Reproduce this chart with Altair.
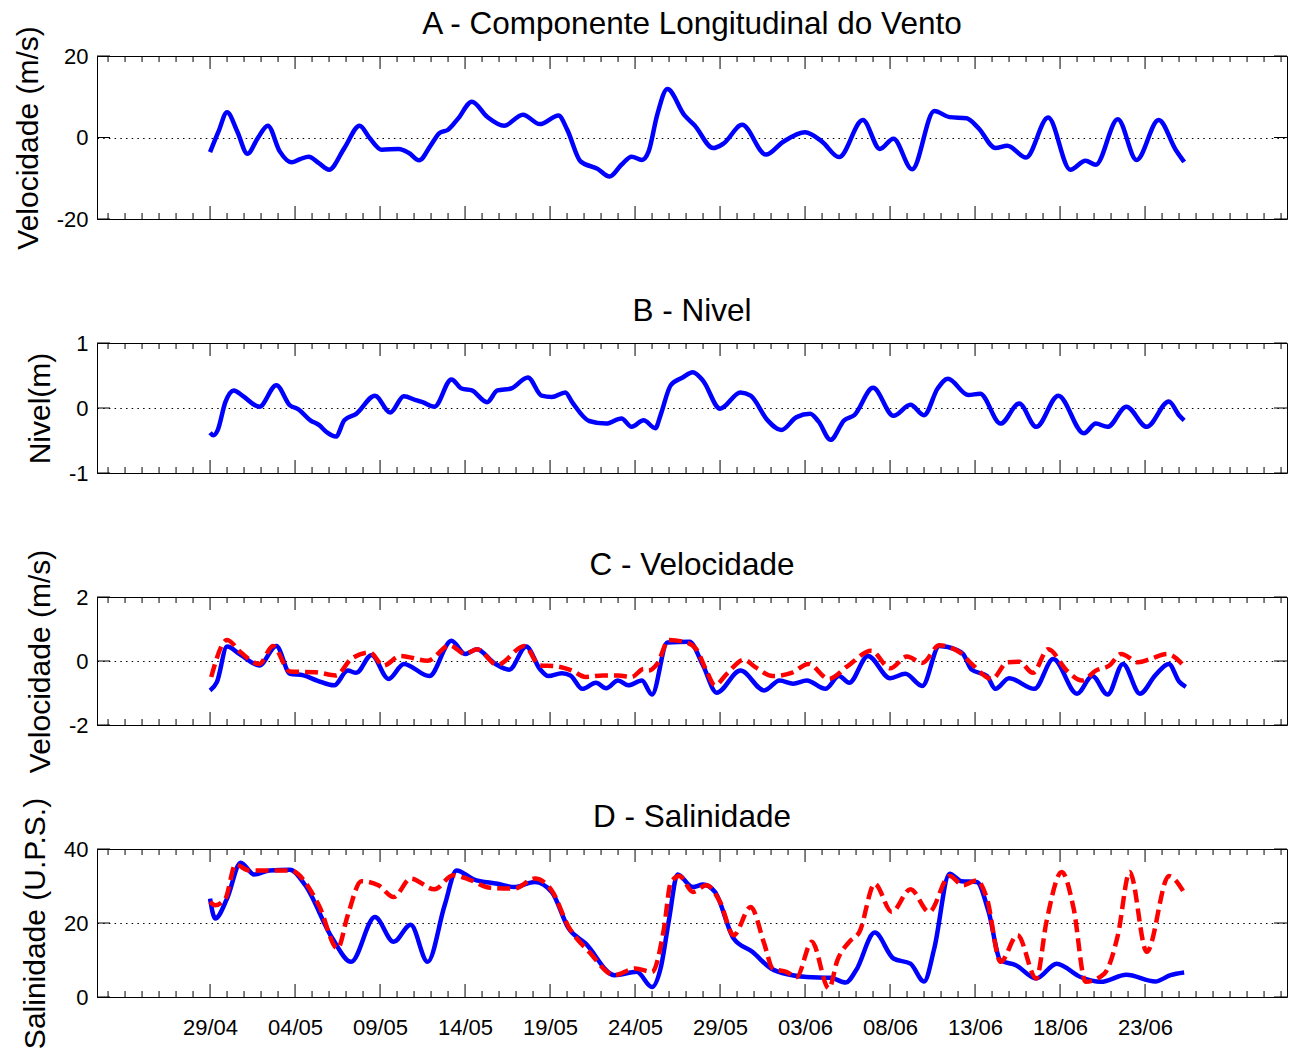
import altair as alt
import pandas as pd

FONT = "Liberation Sans"
W = 1190
X_DOMAIN = [-6.65, 63.35]   # days relative to 29/04

# date labels, one every 5 days starting 29/04
tick_days = [0, 5, 10, 15, 20, 25, 30, 35, 40, 45, 50, 55]
tick_labels = ["29/04", "04/05", "09/05", "14/05", "19/05", "24/05",
               "29/05", "03/06", "08/06", "13/06", "18/06", "23/06"]
minor_days = [d for d in range(-6, 64) if d not in tick_days]

# A - alongshore wind component (m/s)
wind_day = [0.0, 0.5, 1.0, 1.6, 2.2, 2.8, 3.4, 4.1, 4.8, 5.3, 5.8, 6.4, 7.0, 7.9, 8.8,
            9.4, 10.1, 11.1, 11.7, 12.3, 13.0, 13.5, 14.0, 14.6, 15.4, 16.3, 17.3, 18.4,
            19.4, 20.5, 21.0, 21.8, 22.8, 23.5, 24.2, 24.8, 25.4, 25.8, 26.3, 26.9, 27.9,
            28.5, 29.6, 30.2, 31.3, 32.7, 33.7, 35.0, 36.0, 37.0, 38.4, 39.4, 40.2, 41.3,
            42.6, 43.5, 44.5, 45.2, 46.2, 46.9, 48.0, 49.3, 50.6, 51.5, 52.1, 53.4, 54.5,
            55.8, 56.8, 57.3]
wind_val = [-3.6, 1.5, 6.2, 1.5, -4.0, -0.2, 2.9, -3.4, -6.1, -5.3, -4.7, -6.3, -7.9, -2.6, 2.9,
            -0.2, -3.0, -2.8, -3.8, -5.6, -1.8, 1.1, 1.9, 4.7, 8.8, 5.1, 2.9, 5.6,
            3.3, 5.4, 2.0, -5.9, -7.7, -9.6, -6.7, -4.7, -5.5, -3.4, 5.5, 11.9, 5.5,
            3.0, -2.6, -1.5, 3.1, -4.2, -1.1, 1.3, -1.0, -4.8, 4.3, -2.8, -0.3, -7.8,
            6.5, 5.0, 4.7, 2.3, -2.6, -2.0, -4.9, 4.9, -7.9, -5.7, -6.7, 4.5, -5.5,
            4.3, -3.0, -6.0]

# B - water level (m)
level_day = [0.0, 0.2, 0.45, 0.9, 1.4, 1.9, 2.9, 3.9, 4.7, 5.2, 5.9, 6.4, 6.9, 7.4, 7.9,
             8.6, 9.7, 10.6, 11.4, 12.1, 12.5, 13.2, 14.2, 14.8, 15.4, 16.3, 16.9, 17.7,
             18.7, 19.5, 20.1, 20.9, 21.3, 22.3, 23.3, 24.2, 24.8, 25.5, 26.2, 26.5, 27.1,
             27.8, 28.4, 29.0, 30.0, 31.2, 31.8, 32.8, 33.6, 34.5, 35.3, 35.8, 36.5, 37.3,
             37.9, 39.0, 40.2, 41.2, 42.0, 42.8, 43.4, 44.6, 45.3, 46.5, 47.6, 48.6, 49.9,
             51.4, 52.1, 52.8, 53.9, 55.1, 56.4, 57.0, 57.3]
level_val = [-0.38, -0.42, -0.34, 0.09, 0.27, 0.19, 0.02, 0.35, 0.04, -0.02, -0.19, -0.26, -0.38, -0.44, -0.19,
             -0.09, 0.19, -0.07, 0.18, 0.12, 0.09, 0.02, 0.44, 0.30, 0.27, 0.09, 0.27, 0.30,
             0.47, 0.19, 0.17, 0.24, 0.09, -0.20, -0.24, -0.16, -0.29, -0.19, -0.31, -0.11, 0.35,
             0.47, 0.55, 0.42, -0.01, 0.24, 0.19, -0.19, -0.34, -0.14, -0.09, -0.21, -0.49, -0.19,
             -0.11, 0.31, -0.12, 0.05, -0.11, 0.30, 0.45, 0.20, 0.22, -0.24, 0.07, -0.29, 0.19,
             -0.39, -0.24, -0.29, 0.02, -0.29, 0.10, -0.11, -0.19]

# C - current velocity (m/s): solid and dashed series
vel1_day = [0.0, 0.4, 1.0, 1.8, 2.9, 3.9, 4.7, 5.5, 6.3, 7.3, 8.1, 8.6, 9.5, 10.5, 11.4,
            12.9, 14.2, 15.0, 15.7, 16.7, 17.6, 18.6, 19.4, 19.9, 20.7, 21.2, 21.9, 22.7,
            23.3, 24.0, 24.6, 25.4, 26.0, 26.9, 28.2, 29.0, 29.8, 31.2, 32.6, 33.5, 34.3,
            35.1, 36.2, 37.0, 37.6, 38.7, 40.0, 40.9, 41.9, 42.9, 43.9, 44.3, 44.8, 45.7,
            46.2, 47.0, 48.5, 49.6, 51.0, 51.9, 52.8, 53.7, 54.7, 55.6, 56.4, 57.0, 57.4]
vel1_val = [-0.92, -0.66, 0.45, 0.19, -0.14, 0.47, -0.40, -0.45, -0.61, -0.76, -0.30, -0.37, 0.19, -0.56, -0.09,
            -0.47, 0.63, 0.22, 0.37, -0.06, -0.27, 0.45, -0.25, -0.47, -0.38, -0.45, -0.87, -0.68,
            -0.85, -0.61, -0.76, -0.61, -1.05, 0.58, 0.60, -0.14, -0.99, -0.30, -0.92, -0.61, -0.71,
            -0.61, -0.87, -0.47, -0.68, 0.16, -0.54, -0.40, -0.78, 0.47, 0.35, 0.22, -0.27, -0.47,
            -0.87, -0.54, -0.87, 0.06, -1.02, -0.47, -1.05, -0.09, -1.02, -0.45, -0.09, -0.64, -0.81]
vel2_day = [0.07, 1.0, 1.8, 2.9, 3.7, 4.7, 6.2, 7.4, 8.3, 9.4, 10.2, 11.2, 12.8, 14.1, 15.0,
            15.7, 16.9, 18.5, 19.4, 20.3, 21.3, 22.1, 23.1, 24.0, 24.8, 25.5, 25.8, 26.3,
            27.0, 28.0, 28.6, 29.2, 29.7, 30.4, 31.4, 32.1, 33.1, 34.2, 35.2, 36.4, 37.5,
            38.9, 40.0, 41.0, 41.9, 42.9, 44.1, 44.8, 46.0, 46.9, 47.6, 48.4, 49.3, 50.4,
            51.3, 52.1, 52.9, 53.6, 54.6, 55.3, 56.3, 57.3]
vel2_val = [-0.50, 0.66, 0.27, -0.09, 0.47, -0.33, -0.35, -0.45, 0.06, 0.27, -0.14, 0.16, 0.01, 0.49, 0.22,
            0.37, -0.12, 0.47, -0.14, -0.16, -0.30, -0.50, -0.45, -0.45, -0.50, -0.25, -0.30, -0.09,
            0.66, 0.58, 0.37, -0.30, -0.76, -0.40, 0.04, -0.20, -0.47, -0.37, -0.09, -0.56, -0.16,
            0.32, -0.23, 0.14, -0.06, 0.49, 0.27, -0.09, -0.56, -0.04, -0.02, -0.37, 0.37, -0.30,
            -0.61, -0.30, -0.14, 0.22, -0.04, 0.06, 0.22, -0.16]

# D - salinity (U.P.S.): solid and dashed series
sal1_day = [0.0, 0.3, 1.0, 1.8, 2.6, 3.5, 4.7, 5.6, 7.2, 8.3, 9.7, 10.8, 11.8, 12.8, 13.8,
            14.5, 15.5, 16.9, 17.9, 19.1, 20.1, 21.1, 22.1, 23.8, 25.1, 26.0, 26.5, 27.0,
            27.5, 28.4, 29.0, 29.7, 30.8, 31.9, 33.0, 34.1, 35.1, 36.5, 37.4, 38.0, 39.1,
            40.2, 41.2, 42.0, 42.6, 43.5, 44.2, 45.1, 45.8, 46.5, 47.4, 48.6, 49.8, 51.2,
            52.4, 53.9, 55.6, 56.5, 57.3]
sal1_val = [26.6, 21.2, 26.6, 36.3, 33.1, 34.2, 34.4, 30.2, 15.8, 9.5, 21.6, 14.9, 19.5, 9.5, 24.8,
            34.2, 31.8, 30.6, 29.7, 31.1, 28.4, 18.5, 14.4, 5.9, 6.8, 2.7, 7.7, 21.0,
            33.1, 29.7, 30.4, 28.4, 15.8, 12.2, 7.7, 6.0, 5.4, 5.2, 3.9, 7.2, 17.4,
            10.4, 9.0, 4.2, 13.1, 33.3, 31.3, 31.1, 23.0, 9.9, 8.6, 5.0, 9.0, 5.4,
            4.1, 6.0, 4.2, 5.9, 6.6]
sal2_day = [0.0, 0.3, 0.9, 1.5, 2.3, 3.5, 4.7, 6.4, 7.5, 8.1, 8.9, 9.9, 10.8, 11.8, 13.2,
            14.3, 15.2, 16.5, 17.9, 19.1, 20.1, 21.1, 22.3, 23.8, 25.0, 26.0, 26.7, 27.1,
            27.6, 28.4, 29.2, 30.0, 30.8, 31.8, 32.6, 33.1, 33.9, 34.5, 35.4, 36.4, 36.9,
            37.6, 38.2, 39.1, 40.1, 41.2, 42.3, 43.5, 44.3, 45.1, 45.7, 46.5, 47.5, 48.6,
            49.2, 50.1, 50.8, 51.5, 52.6, 53.4, 54.1, 55.1, 56.4, 57.3]
sal2_val = [25.7, 24.8, 26.6, 35.8, 34.2, 34.2, 34.2, 24.8, 13.1, 22.1, 31.3, 30.2, 27.0, 32.0, 29.1,
            32.9, 31.8, 29.5, 29.3, 32.0, 28.8, 18.9, 12.2, 5.9, 7.7, 6.8, 18.5, 30.9,
            32.7, 28.4, 30.2, 25.7, 16.7, 24.3, 14.4, 7.7, 6.8, 5.4, 14.9, 2.3, 9.9,
            14.9, 17.6, 30.6, 23.0, 29.1, 23.0, 32.7, 30.2, 31.5, 26.6, 9.5, 16.7, 5.0,
            20.3, 33.8, 23.9, 4.1, 6.3, 16.7, 33.8, 12.2, 32.7, 28.2]

BLUE = "#0000ff"
RED = "#ff0000"
MAJOR_LEN = 13
MINOR_LEN = 6
LINE_W = 4.5

label_expr = "[" + ",".join("'%s'" % t for t in tick_labels) + "][round(datum.value / 5)]"
xscale = alt.Scale(domain=X_DOMAIN, nice=False, zero=False)


def panel(title, ytitle, ydomain, yticks, height, series, show_dates):
    yscale = alt.Scale(domain=ydomain, nice=False, zero=False)
    if show_dates:
        xaxis = alt.Axis(values=tick_days, labelExpr=label_expr, ticks=False, tickSize=0,
                         domain=False, grid=False, title=None, labelFontSize=22,
                         labelPadding=20, labelFlush=False, labelOverlap=False)
    else:
        xaxis = None
    yaxis = alt.Axis(values=yticks, labelExpr="toString(datum.value)", ticks=False, tickSize=0,
                     domain=False, grid=True, gridDash=[1.5, 4.2], gridColor="black",
                     gridWidth=1, gridOpacity=1, labelFontSize=22, labelPadding=9,
                     labelFlush=False, labelOverlap=False, title=ytitle, titleFontSize=30,
                     titleFontWeight="normal", titlePadding=13)

    def X():
        return alt.X("day:Q", scale=xscale, axis=xaxis)

    def Y():
        return alt.Y("value:Q", scale=yscale, axis=yaxis)

    layers = []
    for days, vals, color, dashed in series:
        df = pd.DataFrame({"day": days, "value": vals})
        if dashed:
            mark = alt.Chart(df).mark_line(color=color, strokeWidth=LINE_W, interpolate="monotone",
                                           strokeDash=[13, 6])
        else:
            mark = alt.Chart(df).mark_line(color=color, strokeWidth=LINE_W, interpolate="monotone")
        layers.append(mark.encode(x=X(), y=Y()))

    # inward ticks on top and bottom edges
    for days, length in ((minor_days, MINOR_LEN), (tick_days, MAJOR_LEN)):
        tdf = pd.DataFrame({"day": days})
        base = alt.Chart(tdf).mark_rule(color="black", strokeWidth=1)
        layers.append(base.encode(x=X(), y=alt.value(0), y2=alt.value(length)))
        layers.append(base.encode(x=X(), y=alt.value(height), y2=alt.value(height - length)))

    # inward ticks on left and right edges
    ydf = pd.DataFrame({"value": yticks})
    ybase = alt.Chart(ydf).mark_rule(color="black", strokeWidth=1)
    layers.append(ybase.encode(y=Y(), x=alt.value(0), x2=alt.value(MAJOR_LEN)))
    layers.append(ybase.encode(y=Y(), x=alt.value(W), x2=alt.value(W - MAJOR_LEN)))

    # panel heading
    layers.append(
        alt.Chart(pd.DataFrame({"t": [title]}))
        .mark_text(font=FONT, fontSize=31.5, baseline="alphabetic", align="center", color="black")
        .encode(x=alt.value(W / 2), y=alt.value(-22.5), text="t:N")
    )
    return alt.layer(*layers).properties(width=W, height=height)


pa = panel("A - Componente Longitudinal do Vento", "Velocidade (m/s)", [-20, 20], [-20, 0, 20], 163,
           [(wind_day, wind_val, BLUE, False)], False)
pb = panel("B - Nivel", "Nivel(m)", [-1, 1], [-1, 0, 1], 130,
           [(level_day, level_val, BLUE, False)], False)
pc = panel("C - Velocidade", "Velocidade (m/s)", [-2, 2], [-2, 0, 2], 128,
           [(vel1_day, vel1_val, BLUE, False), (vel2_day, vel2_val, RED, True)], False)
pd_ = panel("D - Salinidade", "Salinidade (U.P.S.)", [0, 40], [0, 20, 40], 148,
            [(sal1_day, sal1_val, BLUE, False), (sal2_day, sal2_val, RED, True)], True)

chart = (
    alt.vconcat(pa, pb, pc, pd_, spacing=124, bounds="flush")
    .properties(padding={"left": 12, "top": 8, "right": 0, "bottom": 0}, background="white")
    .configure_view(stroke="black", strokeWidth=1, fill="white")
    .configure_axis(labelFont=FONT, titleFont=FONT, labelColor="black", titleColor="black")
)

chart.save("out.html", embed_options={"renderer": "svg", "actions": False})
